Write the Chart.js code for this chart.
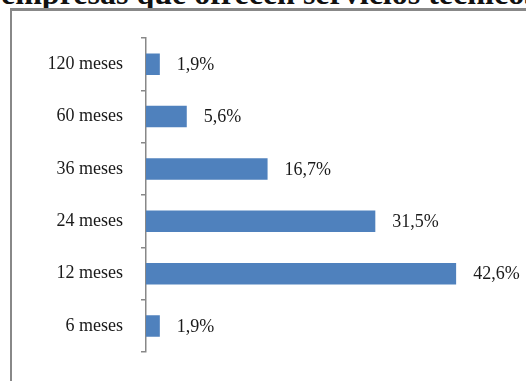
<!DOCTYPE html>
<html>
<head>
<meta charset="utf-8">
<script src="https://cdn.jsdelivr.net/npm/chart.js@4/dist/chart.umd.min.js"></script>
<style>
  html, body { margin: 0; padding: 0; background: #fff; overflow: hidden; }
  #wrap { position: relative; width: 526px; height: 381px; overflow: hidden; background: #fff; }
  #title {
    position: absolute; left: 1px; top: -25px; white-space: nowrap; line-height: 32px;
    font: bold 32px "Liberation Serif", "Times New Roman", serif; color: #111;
  }
  #frameTop { position: absolute; left: 10px; top: 8px; width: 516px; height: 3px; background: #888; }
  #frameLeft { position: absolute; left: 10px; top: 8px; width: 2px; height: 373px; background: #888; }
  #chartBox { position: absolute; left: 0; top: 0; width: 526px; height: 381px; }
</style>
</head>
<body>
<div id="wrap">
  <div id="title">empresas que ofrecen servicios técnicos</div>
  <div id="frameTop"></div>
  <div id="frameLeft"></div>
  <div id="chartBox"><canvas id="c"></canvas></div>
</div>
<script>
// Contract length categories (top to bottom) and share of companies, %
const categories = ['120 meses', '60 meses', '36 meses', '24 meses', '12 meses', '6 meses'];
const shares = [1.9, 5.6, 16.7, 31.5, 42.6, 1.9];

const serif = '"Liberation Serif", "Times New Roman", serif';

// Writes each bar's value next to its end, with a decimal comma
const valueLabels = {
  id: 'valueLabels',
  afterDatasetsDraw(chart) {
    const ctx = chart.ctx;
    const meta = chart.getDatasetMeta(0);
    ctx.save();
    ctx.font = '18px ' + serif;
    ctx.fillStyle = '#1a1a1a';
    ctx.textAlign = 'left';
    ctx.textBaseline = 'middle';
    meta.data.forEach((bar, i) => {
      const txt = shares[i].toFixed(1).replace('.', ',') + '%';
      ctx.fillText(txt, bar.x + 17, bar.y + 1);
    });
    ctx.restore();
  }
};

new Chart(document.getElementById('c'), {
  type: 'bar',
  data: {
    labels: categories,
    datasets: [{
      data: shares,
      backgroundColor: '#4F81BD',
      borderWidth: 0,
      categoryPercentage: 1,
      barPercentage: 0.41
    }]
  },
  options: {
    indexAxis: 'y',
    responsive: true,
    maintainAspectRatio: false,
    animation: false,
    layout: { padding: { left: 0, right: 16, top: 38, bottom: 24 } },
    plugins: { legend: { display: false }, tooltip: { enabled: false } },
    scales: {
      x: { display: false, min: 0, max: 50 },
      y: {
        afterFit(scale) { scale.width = 146; },
        grid: {
          drawOnChartArea: false,
          drawTicks: true,
          tickLength: 5,
          color: '#888',
          lineWidth: 1.5,
          offset: true
        },
        border: { display: true, color: '#888', width: 1.5 },
        ticks: {
          padding: 18,
          color: '#1a1a1a',
          font: { family: serif, size: 18 }
        }
      }
    }
  },
  plugins: [valueLabels]
});
</script>
</body>
</html>
